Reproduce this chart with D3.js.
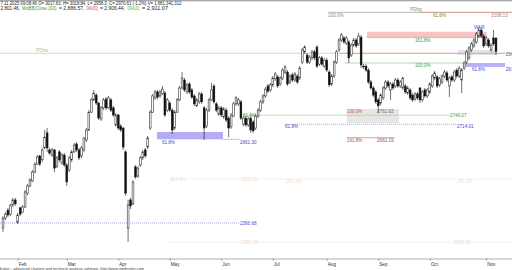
<!DOCTYPE html>
<html>
<head>
<meta charset="utf-8">
<script src="https://cdn.jsdelivr.net/npm/d3@7"></script>
<style>
  body { margin: 0; background: #fff; overflow: hidden; }
  svg { display: block; font-family: "Liberation Sans", Arial, sans-serif; }
</style>
</head>
<body>
<div id="chart"></div>
<script>
// Daily OHLC, late Jan 2025 -> 7 Nov 2025
const opens = [2349,2384,2412,2398,2430,2448,2370,2420,2405,2423,2472,2497,2515,2546,2574,2603,2589,2631,2684,2624,
  2606,2624,2567,2617,2578,2606,2571,2553,2589,2617,2645,2624,2603,2624,2659,2694,2757,2800,2817,2789,
  2733,2772,2803,2772,2800,2772,2712,2747,2708,2701,2617,2349,2448,2434,2564,2532,2571,2596,2624,2634,
  2701,2757,2807,2828,2814,2821,2824,2764,2789,2764,2701,2757,2800,2842,2870,2828,2856,2835,2814,2779,
  2793,2821,2772,2708,2764,2800,2849,2786,2750,2772,2740,2764,2736,2705,2743,2786,2786,2793,2715,2736,
  2712,2736,2722,2701,2743,2764,2793,2814,2849,2835,2853,2874,2881,2856,2877,2898,2898,2863,2888,2870,
  2884,2877,2933,2969,2958,2933,2948,2969,2986,2926,2948,2919,2940,2898,2856,2884,2933,2976,3011,3018,
  3000,3004,2958,2993,3011,2997,3021,2919,2919,2905,2863,2842,2828,2800,2789,2807,2842,2863,2835,2856,
  2849,2870,2849,2842,2849,2824,2835,2817,2803,2821,2842,2800,2835,2814,2828,2849,2877,2881,2853,2863,
  2884,2895,2849,2881,2870,2905,2884,2870,2912,2933,2948,2976,2990,3004,3025,3046,3025,2997,3011,2976,
  3018,3017.83];
const highs = [2391,2405,2420,2434,2455,2455,2402,2423,2430,2483,2504,2525,2553,2581,2606,2606,2631,2694,2701,2631,
  2631,2627,2603,2624,2613,2613,2578,2603,2624,2648,2652,2631,2638,2669,2701,2764,2807,2835,2824,2793,
  2779,2807,2810,2814,2807,2779,2754,2750,2715,2705,2624,2448,2455,2518,2571,2567,2603,2624,2631,2673,
  2764,2821,2835,2835,2835,2849,2831,2807,2796,2772,2764,2807,2849,2898,2877,2860,2863,2842,2821,2807,
  2828,2828,2779,2772,2807,2860,2856,2793,2779,2779,2775,2772,2743,2754,2793,2814,2807,2800,2743,2743,
  2740,2743,2729,2750,2772,2800,2821,2845,2856,2860,2884,2898,2888,2884,2912,2923,2905,2891,2895,2898,
  2891,2919,2983,2993,2965,2958,2976,2976,2993,2955,2955,2948,2948,2905,2891,2940,2976,3018,3036,3025,
  3025,3011,3000,3018,3018,3036,3029,2926,2926,2912,2870,2849,2835,2807,2824,2849,2870,2870,2863,2863,
  2877,2877,2870,2881,2856,2849,2842,2824,2828,2828,2845,2835,2842,2842,2863,2891,2902,2888,2881,2891,
  2905,2902,2884,2888,2905,2912,2919,2912,2937,2976,2990,3004,3018,3039,3057,3053,3032,3025,3018,3000,
  3046,3018.84];
const lows = [2335,2377,2388,2391,2423,2427,2363,2391,2402,2420,2465,2493,2511,2543,2571,2567,2581,2627,2617,2606,
  2599,2546,2560,2581,2571,2564,2497,2546,2581,2613,2617,2589,2596,2617,2652,2691,2754,2796,2782,2729,
  2726,2764,2764,2768,2757,2740,2705,2694,2687,2624,2462,2300,2416,2430,2522,2525,2564,2589,2596,2627,
  2694,2754,2800,2803,2807,2817,2740,2757,2757,2680,2694,2754,2796,2838,2828,2821,2821,2803,2779,2775,
  2786,2786,2659,2701,2757,2796,2786,2757,2743,2740,2733,2722,2669,2698,2740,2779,2779,2729,2708,2705,
  2705,2684,2684,2694,2736,2757,2786,2807,2824,2828,2845,2867,2842,2849,2870,2891,2849,2856,2863,2863,
  2856,2870,2926,2962,2926,2926,2940,2940,2912,2919,2919,2912,2898,2845,2849,2877,2926,2969,3004,2997,
  2993,2930,2951,2986,2983,2990,2912,2909,2898,2856,2835,2810,2786,2754,2782,2800,2835,2842,2800,2835,
  2842,2842,2842,2835,2821,2817,2800,2793,2796,2800,2789,2793,2807,2807,2821,2842,2870,2842,2845,2856,
  2877,2863,2810,2863,2863,2877,2877,2824,2905,2926,2940,2969,2983,2997,3018,3018,2983,2990,2983,2969,
  2990,2958.3];
const closes = [2384,2398,2395,2427,2448,2434,2395,2398,2423,2476,2497,2518,2546,2574,2599,2574,2624,2669,2631,2613,
  2624,2560,2596,2589,2606,2571,2511,2596,2617,2641,2624,2596,2631,2666,2694,2757,2800,2824,2789,2736,
  2772,2800,2772,2807,2764,2747,2747,2701,2694,2634,2472,2430,2427,2511,2529,2560,2596,2617,2603,2666,
  2757,2814,2828,2810,2828,2838,2747,2800,2764,2694,2757,2800,2842,2877,2835,2853,2828,2810,2786,2800,
  2821,2793,2701,2764,2800,2835,2793,2764,2772,2747,2768,2729,2701,2747,2786,2807,2800,2736,2736,2712,
  2733,2694,2691,2743,2764,2793,2814,2838,2831,2853,2877,2891,2849,2877,2905,2916,2856,2884,2870,2891,
  2863,2912,2976,2986,2933,2951,2969,2948,2919,2948,2926,2940,2905,2853,2884,2933,2969,3011,3029,3004,
  3018,2948,2993,3011,2990,3025,2923,2916,2905,2863,2842,2817,2793,2779,2817,2842,2863,2849,2856,2842,
  2870,2849,2863,2877,2828,2842,2807,2800,2821,2807,2800,2828,2814,2835,2856,2884,2895,2849,2874,2884,
  2898,2870,2877,2870,2898,2884,2912,2905,2930,2969,2983,2997,3011,3032,3046,3025,2990,3018,2990,2993,
  2997,2970.61];

// first bar of each month (bar index) and its label
const monthTicks = [6, 26, 47, 68, 89, 110, 132, 153, 174, 197];
const monthLabels = ["Feb", "Mar", "Apr", "May", "Jun", "Jul", "Aug", "Sep", "Oct", "Nov"];

// horizontal levels drawn by the chart
const pdhg = 3108.13;
const pdhw = 2964.0;
const resistZone = [3040, 3020];
const pivotZone = [2976, 2958];
const fibUp100 = 2930.0;
const fibUpZone = [2930, 2916.2];
const boxMid = [2768, 2718];
const fibGreen = 2746.07;
const fibBlue = 2714.01;
const fibRed = 2667.0;
const supportZone = [2687, 2661.30];
const lowLine = 2366.68;
const faintLevels = [2522, 2300];

const W = 512, H = 270;
const svg = d3.select("#chart").append("svg")
  .attr("width", W).attr("height", H)
  .attr("viewBox", `0 0 ${W} ${H}`);

const x = d3.scaleLinear().domain([0, opens.length - 1]).range([3, 496]);
const y = d3.scaleLinear().domain([2240, 3151.68]).range([259, 0]);

const FS = 4.6;
const GREEN = "#3f9a3f", BLUE = "#4848d8", RED = "#c84848", GRAY = "#8a8a8a";

// top border
svg.append("rect").attr("x", 0).attr("y", 0).attr("width", W).attr("height", 1.3).attr("fill", "#a8a8a8");

const lev = svg.append("g");
const marks = svg.append("g");
const txt = svg.append("g").attr("font-size", FS);

function hline(price, i0, i1, color, width, dash) {
  lev.append("line")
    .attr("x1", x(i0)).attr("x2", x(i1))
    .attr("y1", y(price)).attr("y2", y(price))
    .attr("stroke", color).attr("stroke-width", width || 0.7)
    .attr("stroke-dasharray", dash || null);
}
function zone(p, i0, i1, color) {
  lev.append("rect")
    .attr("x", x(i0)).attr("width", x(i1) - x(i0))
    .attr("y", y(p[0])).attr("height", y(p[1]) - y(p[0]))
    .attr("fill", color);
}
function label(text, i, price, dy, color) {
  txt.append("text").attr("x", x(i)).attr("y", y(price) + dy)
    .attr("fill", color).text(text);
}

// faint extension levels in the lower half
faintLevels.forEach(p => hline(p, 68, 208, "#f7ebe2", 0.7));

// zones
zone(resistZone, 148.4, 197.3, "#f8c4c4");
zone(pivotZone, 185.5, 201.4, "#e2e2ea");
zone(fibUpZone, 187.5, 204.7, "#b8b0f2");
zone(boxMid, 140.2, 161.4, "#e6e6e6");
zone(supportZone, 62.8, 89.7, "#b4acf2");

// lines
hline(pdhw, -2, 208, "#ddd6b8", 1.1);
hline(pdhw, 137.4, 204.7, "#9aa4aa", 0.6);
hline(pdhg, 132.5, 170.4, "#9aaab4", 0.8);
hline(pdhg, 170.4, 208, "#d9a89a", 1.4);
hline(resistZone[1], 148.4, 197.3, "#b89870", 0.6);
hline(fibUp100, 139.4, 187.5, "#7cc07c", 0.6);
hline(fibGreen, 97.8, 182.2, "#8ccc8c", 0.6);
hline(fibBlue, 115, 185.1, "#6c6cd8", 0.6, "1,1");
hline(fibRed, 140.2, 159.8, "#d06060", 0.6);
hline(supportZone[1], 89.7, 96.6, "#9c94e8", 0.6);
hline(lowLine, -2, 96.6, "#5a5ad8", 0.6, "1,1");

// candles
const idx = d3.range(opens.length);
marks.selectAll("line.wick").data(idx).join("line")
  .attr("class", "wick")
  .attr("x1", i => x(i)).attr("x2", i => x(i))
  .attr("y1", i => y(highs[i])).attr("y2", i => y(lows[i]))
  .attr("stroke", "#111").attr("stroke-width", 0.6);
marks.selectAll("rect.body").data(idx).join("rect")
  .attr("class", "body")
  .attr("x", i => x(i) - 0.9).attr("width", 1.8)
  .attr("y", i => y(Math.max(opens[i], closes[i])))
  .attr("height", i => Math.max(0.7, Math.abs(y(opens[i]) - y(closes[i]))))
  .attr("fill", i => closes[i] >= opens[i] ? "#fff" : "#111")
  .attr("stroke", "#111").attr("stroke-width", 0.5);

// level labels
label("PDhw", 13.5, pdhw, -1.5, "#c8b88a");
label("100.0%", 132.5, pdhg, 4.6, GRAY);
label("PDhg", 166, pdhg, -1.6, GRAY);
label("61.8%", 175.3, pdhg, 4.6, GREEN);
label("3108.13", 199, pdhg, 4.6, GRAY);
label("WAR", 192, 3048, 0, BLUE);
label("161.8%", 168, resistZone[1], 4.4, GREEN);
label("2964.95", 205, pdhw, 2.4, "#666");
label("100.0%", 168, fibUp100, 4.4, GREEN);
label("61.8%", 191.2, fibUpZone[1], 4.6, BLUE);
label("2916.20", 205, fibUpZone[1], 4.6, BLUE);
label("100.0%", 140.2, 2761.63, 2.4, RED);
label("2761.63", 152.5, 2761.63, 2.4, "#a05050");
label("61.8%", 97.8, fibGreen, 2.2, GREEN);
label("2746.07", 182.2, fibGreen, 2.2, GREEN);
label("61.8%", 115, fibBlue, 3.2, BLUE);
label("2714.01", 185.1, fibBlue, 3.2, BLUE);
label("161.8%", 140.2, fibRed, 4.6, RED);
label("2661.19", 152.5, fibRed, 4.6, "#a05050");
label("61.8%", 64.8, supportZone[1], 4.4, BLUE);
label("2661.30", 96.6, supportZone[1], 4.4, BLUE);
label("2366.68", 96.6, lowLine, 2.4, BLUE);

// faint extension labels
[["261.8%", 68.2, 0], ["2521.55", 97, 0], ["261.8%", 115.5, 1.6], ["261.8%", 185.2, 1.6]].forEach(d =>
  label(d[0], d[1], faintLevels[0], 2.4 + d[2], "#f2dccf"));
[["2300.28", 97], ["2300.28", 183.8]].forEach(d => label(d[0], d[1], faintLevels[1], 2.4, "#f2dccf"));

// x axis
svg.append("line").attr("x1", 0).attr("x2", W).attr("y1", 259).attr("y2", 259)
  .attr("stroke", "#9a9a9a").attr("stroke-width", 0.8);
const ax = svg.append("g").attr("transform", "translate(0,258)")
  .call(d3.axisBottom(x).tickValues(monthTicks).tickFormat((d, i) => monthLabels[i]).tickSize(3).tickPadding(1.5));
ax.select(".domain").remove();
ax.selectAll(".tick line").attr("stroke", "#888").attr("stroke-width", 0.6);
ax.selectAll(".tick text").attr("text-anchor", "start").attr("dx", 0.5)
  .attr("font-size", FS).attr("font-family", "Liberation Sans, Arial, sans-serif").attr("fill", "#333");

// header lines
const head = svg.append("g").attr("font-size", FS);
head.append("text").attr("x", 0.5).attr("y", 5).attr("fill", "#222")
  .attr("textLength", 181).attr("lengthAdjust", "spacingAndGlyphs")
  .text("7.11.2025 09:08:46 O= 3017.83, H= 3018.84, L= 2958.3, C= 2970.61 (-1.2%) V= 1,681,341,312");
[["2,801.46,", 0.5, 19.5, "#222"], ["MidBB(Close,100)", 22, 34.5, "#3f9a3f"], ["= 2,886.57,", 59, 25.5, "#222"],
 ["DMA(50)", 86.5, 11.5, "#e04848"], ["= 2,906.44,", 100, 25, "#222"], ["DMA(20)", 127.5, 12, "#3cc03c"],
 ["= 2,911.07", 142, 26, "#222"]].forEach(s =>
  head.append("text").attr("x", s[1]).attr("y", 10.3).attr("fill", s[3])
    .attr("textLength", s[2]).attr("lengthAdjust", "spacingAndGlyphs").text(s[0]));

// footer
svg.append("text").attr("x", -8).attr("y", 269.5).attr("font-size", 4.3).attr("fill", "#444")
  .attr("textLength", 152).attr("lengthAdjust", "spacingAndGlyphs")
  .text("AmiBroker - advanced charting and technical analysis software. http://www.amibroker.com");
</script>
</body>
</html>
